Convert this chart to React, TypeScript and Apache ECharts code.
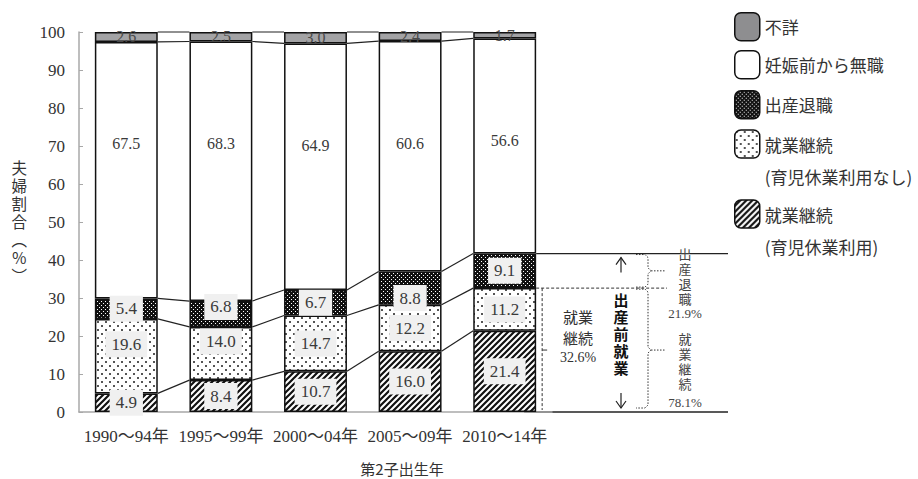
import React, { useEffect, useRef } from 'react';
import * as echarts from 'echarts';

// ---- data ----
const categories = ['1990～94年', '1995～99年', '2000～04年', '2005～09年', '2010～14年'];
const nameIkukyu = '就業継続（育児休業利用）';
const nameNashi = '就業継続（育児休業利用なし）';
const nameTaishoku = '出産退職';
const nameMushoku = '妊娠前から無職';
const nameFusho = '不詳';

const ikukyuRiyou = [4.9, 8.4, 10.7, 16.0, 21.4];
const ikukyuNashi = [19.6, 14.0, 14.7, 12.2, 11.2];
const shussanTaishoku = [5.4, 6.8, 6.7, 8.8, 9.1];
const ninshinMaeMushoku = [67.5, 68.3, 64.9, 60.6, 56.6];
const fusho = [2.6, 2.5, 3.0, 2.4, 1.7];

const yMin = 0;
const yMax = 100;
const yInterval = 10;

// annotation texts (latest cohort)
const keizokuShare = '32.6%';
const taishokuShare = '21.9%';
const keizokuAllShare = '78.1%';

const SERIF = '"Liberation Serif", "Noto Sans CJK JP", serif';
const JP = '"Noto Sans CJK JP", "Noto Sans", sans-serif';
const BAR_RATIO = 0.665;

function makePattern(size: number, draw: (ctx: CanvasRenderingContext2D, s: number) => void) {
  const c = document.createElement('canvas');
  c.width = size;
  c.height = size;
  const ctx = c.getContext('2d') as CanvasRenderingContext2D;
  draw(ctx, size);
  return { image: c, repeat: 'repeat', imageWidth: size, imageHeight: size } as any;
}

export default function App() {
  const ref = useRef<HTMLDivElement>(null);

  useEffect(() => {
    if (!ref.current) return;
    const chart = echarts.init(ref.current, null, { renderer: 'svg' });

    const darkDots = makePattern(4, (ctx, s) => {
      ctx.fillStyle = '#111';
      ctx.fillRect(0, 0, s, s);
      ctx.fillStyle = '#fff';
      ctx.fillRect(1, 1, 1, 1);
      ctx.fillRect(3, 3, 1, 1);
    });
    const lightDots = makePattern(8, (ctx, s) => {
      ctx.fillStyle = '#fff';
      ctx.fillRect(0, 0, s, s);
      ctx.fillStyle = '#555';
      ctx.fillRect(1, 1, 2, 2);
      ctx.fillRect(5, 5, 2, 2);
    });
    const stripes = makePattern(6, (ctx, s) => {
      ctx.fillStyle = '#fff';
      ctx.fillRect(0, 0, s, s);
      ctx.strokeStyle = '#111';
      ctx.lineWidth = 2.2;
      ctx.beginPath();
      ctx.moveTo(0, s); ctx.lineTo(s, 0);
      ctx.moveTo(-s / 2, s / 2); ctx.lineTo(s / 2, -s / 2);
      ctx.moveTo(s / 2, s * 1.5); ctx.lineTo(s * 1.5, s / 2);
      ctx.stroke();
    });

    const layers = [ikukyuRiyou, ikukyuNashi, shussanTaishoku, ninshinMaeMushoku, fusho];
    // cumulative tops of each layer
    const cum: number[][] = [];
    layers.forEach((arr, j) => {
      cum.push(arr.map((v, i) => Math.round(((j > 0 ? cum[j - 1][i] : 0) + v) * 10) / 10));
    });
    const connectorData: number[][] = [];
    cum.forEach((lv) => {
      for (let i = 0; i < lv.length - 1; i++) connectorData.push([i, lv[i], lv[i + 1]]);
    });

    const boxLabel = () => ({
      show: true,
      position: 'inside',
      color: '#3a3a3a',
      fontFamily: SERIF,
      fontSize: 17,
      backgroundColor: '#f0f0f0',
      padding: [5, 6, 4, 6],
      formatter: (p: any) => p.value.toFixed(1),
    });
    const withOffsets = (arr: number[], offsets: Record<number, number>) =>
      arr.map((v, i) => (offsets[i] !== undefined ? { value: v, label: { offset: [0, offsets[i]] } } : v));

    const border = { borderColor: '#111', borderWidth: 1.5 };

    const series: any[] = [
      {
        name: nameIkukyu, type: 'bar', stack: 'total', barWidth: BAR_RATIO * 100 + '%',
        itemStyle: { color: stripes, ...border },
        label: boxLabel(),
        data: ikukyuRiyou,
      },
      {
        name: nameNashi, type: 'bar', stack: 'total', barWidth: BAR_RATIO * 100 + '%',
        itemStyle: { color: lightDots, ...border },
        label: boxLabel(),
        data: withOffsets(ikukyuNashi, { 0: -12, 1: -12 }),
      },
      {
        name: nameTaishoku, type: 'bar', stack: 'total', barWidth: BAR_RATIO * 100 + '%',
        itemStyle: { color: darkDots, ...border },
        label: boxLabel(),
        data: withOffsets(shussanTaishoku, { 1: -7, 3: 10 }),
      },
      {
        name: nameMushoku, type: 'bar', stack: 'total', barWidth: BAR_RATIO * 100 + '%',
        itemStyle: { color: '#ffffff', ...border },
        label: {
          show: true, position: ['50%', 102], align: 'center', verticalAlign: 'middle',
          color: '#3a3a3a', fontFamily: SERIF, fontSize: 16,
          formatter: (p: any) => p.value.toFixed(1),
        },
        data: ninshinMaeMushoku,
      },
      {
        name: nameFusho, type: 'bar', stack: 'total', barWidth: BAR_RATIO * 100 + '%',
        itemStyle: { color: '#a3a3a5', ...border },
        label: {
          show: true, position: 'inside', color: '#4a4a4a', fontFamily: SERIF, fontSize: 16,
          formatter: (p: any) => p.value.toFixed(1),
        },
        data: fusho,
      },
      {
        type: 'custom', silent: true, z: 1,
        renderItem: (params: any, api: any) => {
          const i = api.value(0);
          const p1 = api.coord([i, api.value(1)]);
          const p2 = api.coord([i + 1, api.value(2)]);
          const hw = (api.size([1, 0])[0] * BAR_RATIO) / 2;
          return {
            type: 'line',
            shape: { x1: p1[0] + hw, y1: p1[1], x2: p2[0] - hw, y2: p2[1] },
            style: { stroke: '#222', lineWidth: 1.2 },
          };
        },
        encode: { x: 0, y: 1 },
        data: connectorData,
      },
    ];

    const legendTextStyle = { fontFamily: JP, fontSize: 17, color: '#333' };
    const legendItem = (name: string, top: number, label: string, twoLine: boolean, color?: string) => ({
      data: [name],
      left: 734,
      top,
      orient: 'vertical',
      padding: 0,
      itemWidth: 25,
      itemHeight: 28,
      itemGap: 0,
      selectedMode: false,
      itemStyle: { borderColor: '#111', borderWidth: 1.5, ...(color ? { color } : {}) },
      formatter: () => (twoLine ? ' \n' + label : label),
      textStyle: twoLine ? { ...legendTextStyle, lineHeight: 32 } : { ...legendTextStyle, lineHeight: 22 },
    });

    chart.setOption({
      animation: false,
      backgroundColor: '#ffffff',
      grid: { left: 79, right: 366, top: 32, bottom: 67, containLabel: false },
      legend: [
        legendItem(nameFusho, 12, '不詳', false, '#8e8e90'),
        legendItem(nameMushoku, 50, '妊娠前から無職', false),
        legendItem(nameTaishoku, 90, '出産退職', false),
        legendItem(nameNashi, 130 - 34, '就業継続\n(育児休業利用なし)', true),
        legendItem(nameIkukyu, 200 - 34, '就業継続\n(育児休業利用)', true),
      ],
      xAxis: {
        type: 'category',
        data: categories,
        axisLine: { show: true, lineStyle: { color: '#a8a8a8', width: 1.5 } },
        axisTick: { show: false },
        axisLabel: { color: '#333', fontFamily: SERIF, fontSize: 17, margin: 16, interval: 0 },
      },
      yAxis: {
        type: 'value',
        min: yMin,
        max: yMax,
        interval: yInterval,
        name: '夫\n婦\n割\n合\n︵\n％\n︶',
        nameLocation: 'middle',
        nameRotate: 0,
        nameGap: 52,
        nameTextStyle: { fontFamily: SERIF, fontSize: 15.5, lineHeight: 18, color: '#333', padding: [0, 0, 16, 0] },
        axisLine: { show: true, lineStyle: { color: '#a8a8a8', width: 1.5 } },
        axisTick: { show: true, inside: true, length: 4, lineStyle: { color: '#a8a8a8' } },
        axisLabel: { color: '#333', fontFamily: SERIF, fontSize: 17, margin: 14 },
        splitLine: { show: false },
      },
      series,
    });

    // annotations on the right, positioned through the chart's own scales
    const last = categories.length - 1;
    const toPx = (i: number, v: number) => chart.convertToPixel({ gridIndex: 0 }, [i, v]) as number[];
    const c0 = toPx(0, 0);
    const c1 = toPx(1, 0);
    const band = c1[0] - c0[0];
    const pLast = toPx(last, 0);
    const xR = pLast[0] + (band * BAR_RATIO) / 2;
    const y0 = pLast[1];
    const yTop = toPx(last, cum[2][last])[1];
    const yMid = toPx(last, cum[1][last])[1];
    const xEnd = 728;
    const xArrow = 621;
    const xBrace = 648;
    const stroke = '#222';
    const dotted = { stroke: '#333', lineWidth: 1, lineDash: [1.5, 1.5] };
    const dashed = { stroke: '#333', lineWidth: 1, lineDash: [3, 2] };

    const yBraceMid1 = (yTop + yMid) / 2;
    const yBraceMid2 = (yMid + y0) / 2;

    const graphic: any[] = [
      { type: 'line', shape: { x1: xR, y1: yTop, x2: xEnd, y2: yTop }, style: { stroke, lineWidth: 1.3 } },
      { type: 'line', shape: { x1: xR - 12, y1: y0, x2: xEnd, y2: y0 }, style: { stroke, lineWidth: 1.3 } },
      { type: 'line', shape: { x1: xR, y1: yMid, x2: 667, y2: yMid }, style: dashed },
      // left bracket for 就業継続 32.6%
      { type: 'line', shape: { x1: xR + 6, y1: yMid, x2: xR + 6, y2: y0 - 2 }, style: dashed },
      { type: 'line', shape: { x1: xR + 6, y1: (yMid + y0) / 2, x2: xR + 11, y2: (yMid + y0) / 2 }, style: { stroke: '#333', lineWidth: 1 } },
      {
        type: 'text', x: 578, y: 306,
        style: { text: '就業\n継続', font: '15px ' + JP, fill: '#333', align: 'center', verticalAlign: 'top', lineHeight: 21 },
      },
      {
        type: 'text', x: 578, y: 350,
        style: { text: keizokuShare, font: '14px ' + SERIF, fill: '#333', align: 'center', verticalAlign: 'top' },
      },
      // arrows
      { type: 'line', shape: { x1: xArrow, y1: yTop + 4, x2: xArrow, y2: yTop + 19 }, style: { stroke, lineWidth: 1.2 } },
      { type: 'polyline', shape: { points: [[xArrow - 5, yTop + 11], [xArrow, yTop + 4], [xArrow + 5, yTop + 11]] }, style: { stroke, lineWidth: 1.2, fill: null } },
      { type: 'line', shape: { x1: xArrow, y1: y0 - 19, x2: xArrow, y2: y0 - 4 }, style: { stroke, lineWidth: 1.2 } },
      { type: 'polyline', shape: { points: [[xArrow - 5, y0 - 11], [xArrow, y0 - 4], [xArrow + 5, y0 - 11]] }, style: { stroke, lineWidth: 1.2, fill: null } },
      {
        type: 'text', x: xArrow, y: 292,
        style: { text: '出\n産\n前\n就\n業', font: 'bold 15px ' + SERIF, fill: '#111', align: 'center', verticalAlign: 'top', lineHeight: 17 },
      },
      // brace for 出産退職
      {
        type: 'polyline',
        shape: {
          points: [
            [636, yTop + 1], [645, yTop + 1], [xBrace, yTop + 4], [xBrace, yBraceMid1 - 3], [xBrace + 3, yBraceMid1],
            [xBrace, yBraceMid1 + 3], [xBrace, yMid - 4], [645, yMid - 1], [636, yMid - 1],
          ],
        },
        style: { ...dotted, fill: null },
      },
      { type: 'line', shape: { x1: xBrace + 3, y1: yBraceMid1, x2: 665, y2: yBraceMid1 }, style: dotted },
      // brace for 就業継続 78.1%
      {
        type: 'polyline',
        shape: {
          points: [
            [636, yMid + 1], [645, yMid + 1], [xBrace, yMid + 4], [xBrace, yBraceMid2 - 3], [xBrace + 3, yBraceMid2],
            [xBrace, yBraceMid2 + 3], [xBrace, y0 - 7], [645, y0 - 4], [636, y0 - 4],
          ],
        },
        style: { ...dotted, fill: null },
      },
      { type: 'line', shape: { x1: xBrace + 3, y1: yBraceMid2, x2: 665, y2: yBraceMid2 }, style: dotted },
      {
        type: 'text', x: 685, y: 247,
        style: { text: '出\n産\n退\n職', font: '13px ' + SERIF, fill: '#444', align: 'center', verticalAlign: 'top', lineHeight: 15 },
      },
      {
        type: 'text', x: 685, y: 307,
        style: { text: taishokuShare, font: '13px ' + SERIF, fill: '#444', align: 'center', verticalAlign: 'top' },
      },
      {
        type: 'text', x: 685, y: 332,
        style: { text: '就\n業\n継\n続', font: '13px ' + SERIF, fill: '#444', align: 'center', verticalAlign: 'top', lineHeight: 15 },
      },
      {
        type: 'text', x: 685, y: 396,
        style: { text: keizokuAllShare, font: '13px ' + SERIF, fill: '#444', align: 'center', verticalAlign: 'top' },
      },
      // x axis title
      {
        type: 'text', x: 402, y: 468,
        style: { text: '第2子出生年', font: '15px ' + JP, fill: '#333', align: 'center', verticalAlign: 'middle' },
      },
    ];

    chart.setOption({ graphic });

    return () => chart.dispose();
  }, []);

  return (
    <div
      ref={ref}
      style={{ position: 'fixed', left: 0, top: 0, width: 918, height: 479, background: '#fff' }}
    />
  );
}
